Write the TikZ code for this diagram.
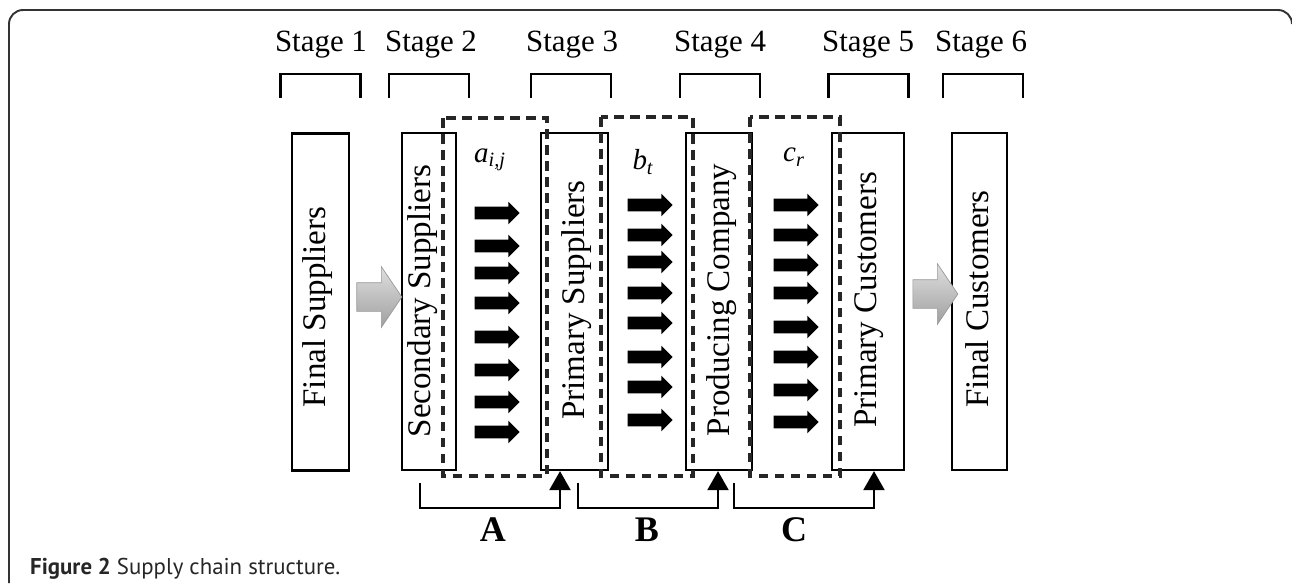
\documentclass[tikz,border=0pt]{standalone}
\usepackage{fontspec}
\setmainfont{Liberation Serif}
\newfontfamily\capfont{PT Sans}
\usepackage{tikz}
\usetikzlibrary{positioning, shapes.arrows, arrows.meta, calc}
\tikzset{
    block/.style={
        draw, line width=1.3pt,
        minimum height = 6.74cm,
        inner sep = 0pt
    },
    boxtext/.style = {rotate=90, font=\fontsize{18.8}{20}\selectfont},
    stagetext/.style = {anchor=base, font=\fontsize{17.6}{19}\selectfont},
    bracket/.style = {line width=1.3pt},
    dashbox/.style = {line width=2pt, draw=black!85, dash pattern=on 5.5pt off 3.6pt},
    blkarrow/.style = {
        single arrow, fill=black, inner xsep=0pt, inner ysep=0.12cm,
        single arrow head extend=0.1cm, minimum height=0.9cm
    },
    grayarrow/.style = {
        single arrow, draw=gray!80, top color=gray!25, bottom color=gray!75,
        inner xsep=0pt, inner ysep=0.28cm, single arrow head extend=0.32cm,
        single arrow tip angle=112, minimum height=0.9cm
    },
    varlabel/.style = {font=\fontsize{16.5}{18}\selectfont\itshape},
    letter/.style = {font=\fontsize{20.5}{22}\selectfont\bfseries},
    line/.style = {line width=1.3pt, -{Triangle[width=0.42cm,length=0.38cm]}},
    frame/.style = {line width=1.1pt, draw=black!80}
}
\begin{document}
\begin{tikzpicture}[x=0.02cm, y=-0.02cm]
    \useasboundingbox (0,0) rectangle (1292,583);

    % Frame
    \draw[frame] (9,583) -- (9,24) arc[start angle=180, end angle=270, radius=14]
        -- (1278,10) arc[start angle=270, end angle=360, radius=14];

    % Blocks
    \node[block, minimum width=1.14cm] (finSup) at (320.5,302) {};
    \node[block, minimum width=1.08cm] (secSup) at (429,301.5) {};
    \node[block, minimum width=1.34cm] (priSup) at (574.5,301.5) {};
    \node[block, minimum width=1.32cm] (prodCo) at (719,301.5) {};
    \node[block, minimum width=1.44cm] (priCus) at (868,301.5) {};
    \node[block, minimum width=1.10cm] (finCus) at (979.5,301.5) {};

    \node[boxtext] (tFinSup) at (318,307) {Final Suppliers};
    \node[boxtext] (tSecSup) at (423,301) {Secondary Suppliers};
    \node[boxtext] (tPriSup) at (577,300) {Primary Suppliers};
    \node[boxtext] (tProdCo) at (722,300) {Producing Company};
    \node[boxtext] (tPriCus) at (869,300) {Primary Customers};
    \node[boxtext] (tFinCus) at (977,299) {Final Customers};

    % Stages
    \foreach \x/\s/\t in {320.5/1/321, 429/2/431, 571/3/572, 720/4/720, 868.5/5/868, 983/6/981} {
        \node[stagetext] (stage\s) at (\t,51) {Stage \s};
        \draw[bracket] (\x-40,98) -- (\x-40,74) -- (\x+40,74) -- (\x+40,98);
    }

    % Dashed areas
    \draw[dashbox] (443,118) rectangle (547,476);
    \draw[dashbox] (601,117) rectangle (693,476);
    \draw[dashbox] (750,117) rectangle (840,476);

    % Flow labels
    \node[varlabel] (aij) at (490,160) {a\textsubscript{i,j}};
    \node[varlabel] (bt) at (643,162) {b\textsubscript{t}};
    \node[varlabel] (cr) at (794,157) {c\textsubscript{r}};

    % Flow arrows
    \foreach \y [count=\i] in {213, 246, 273, 303, 337, 370, 402, 432}
        \node[blkarrow] (a\i) at (494,\y) {};
    \foreach \y [count=\i] in {205, 235, 262, 293, 323, 357, 387, 420}
        \node[blkarrow] (b\i) at (647,\y) {};
    \foreach \y [count=\i] in {205, 235, 265, 293, 327, 357, 390, 422}
        \node[blkarrow] (c\i) at (793,\y) {};

    % Gray arrows
    \node[grayarrow] (g1) at (374.5,297) {};
    \node[grayarrow] (g2) at (930.5,294) {};

    % Lines
    \draw[line] ($(secSup.south)+(-9,12)$) -- ++(0,25) -| ([xshift=-0.29cm]priSup.south);
    \draw[line] ($(priSup.south)+(3.5,12)$) -- ++(0,25) -| ([xshift=-0.02cm]prodCo.south);
    \draw[line] ($(prodCo.south)+(15,12)$) -- ++(0,25) -| ([xshift=0.12cm]priCus.south);

    \node[letter] (labA) at (493,530) {A};
    \node[letter] (labB) at (647,530) {B};
    \node[letter] (labC) at (794,530) {C};

    % Caption
    \node[anchor=base west, text=black!85, font=\capfont\fontsize{13}{15}\selectfont] (caption) at (24,574)
        {\textbf{Figure 2} Supply chain structure.};
\end{tikzpicture}
\end{document}
